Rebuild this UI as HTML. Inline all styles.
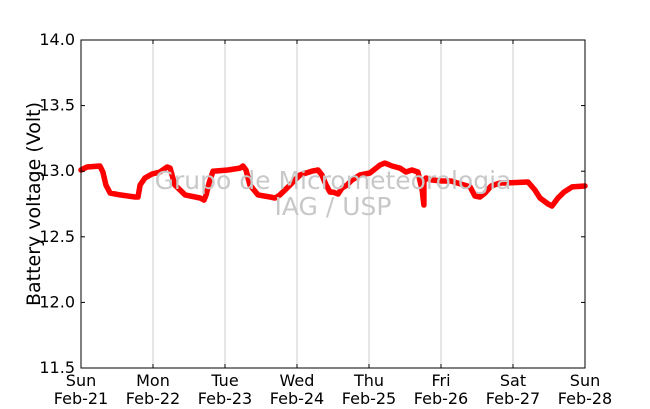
<!DOCTYPE html>
<html><head><meta charset="utf-8"><style>
body{margin:0;background:#fff;}
svg{display:block;font-family:"DejaVu Sans","Liberation Sans",sans-serif;}
</style></head><body>
<svg id="chart" width="650" height="409">
<rect x="0" y="0" width="650" height="409" fill="#fff"/>
<g id="grid"></g>
<g id="series"></g>
<text x="333" y="189" text-anchor="middle" font-size="25" fill="#c8c8c8">Grupo de Micrometeorologia</text>
<text x="333" y="215" text-anchor="middle" font-size="25" fill="#c8c8c8">IAG / USP</text>
<rect x="81" y="40" width="504" height="328" fill="none" stroke="#000" stroke-width="1"/>
<g id="axes"></g>
<text transform="translate(40,204) rotate(-90)" text-anchor="middle" font-size="19" fill="#000">Battery voltage (Volt)</text>
</svg>
<script>
const xDays1 = ["Sun","Mon","Tue","Wed","Thu","Fri","Sat","Sun"];
const xDays2 = ["Feb-21","Feb-22","Feb-23","Feb-24","Feb-25","Feb-26","Feb-27","Feb-28"];
const yTicks = [11.5,12.0,12.5,13.0,13.5,14.0];
const hours = [0,2,6.3,7.3,8.3,9.7,13,18,19,19.7,21.3,23.7,26.3,28.7,29.7,31.3,34.7,39.7,41,41.7,42.7,44,49,53,54,55,56.3,59,63,64.7,66.3,68,69.7,71.3,73,77.3,79,80.3,81.7,83,84,85.7,87,88.7,90.3,93,96.3,99.7,101.3,103.7,106.3,108.3,110.3,112.3,113.7,114.3,114.3,114.3,115,117,120.3,123.3,129.7,131.3,133,134.7,136.7,139.7,141.3,149,151.3,153,155.7,157,159,161,163.7,168];
const volts = [13.009,13.032,13.04,12.994,12.895,12.834,12.819,12.803,12.803,12.895,12.948,12.979,12.994,13.032,13.024,12.895,12.819,12.796,12.78,12.819,12.91,13.0,13.009,13.024,13.04,13.009,12.895,12.819,12.803,12.796,12.819,12.857,12.895,12.933,12.971,13.002,13.009,12.971,12.895,12.841,12.841,12.826,12.872,12.895,12.933,12.971,12.986,13.047,13.062,13.04,13.024,12.994,13.009,12.994,12.86,12.742,12.86,12.92,12.948,12.933,12.925,12.925,12.88,12.811,12.803,12.834,12.887,12.91,12.91,12.918,12.857,12.796,12.75,12.735,12.796,12.841,12.88,12.887];
const X0=81,X1=585,Y0=368,Y1=40;
const xs=h=>X0+(h/168)*(X1-X0);
const ys=v=>Y0-(v-11.5)/(14-11.5)*(Y0-Y1);
const NS="http://www.w3.org/2000/svg";
const grid=document.getElementById('grid'),axes=document.getElementById('axes'),series=document.getElementById('series');
function mk(tag,attrs,parent){const e=document.createElementNS(NS,tag);for(const k in attrs)e.setAttribute(k,attrs[k]);parent.appendChild(e);return e;}
for(let d=0;d<xDays1.length;d++){
  const x=xs(d*24);
  if(d>0&&d<7){const g=mk('line',{x1:x,x2:x,y1:Y1,y2:Y0,stroke:'#cccccc','stroke-width':1},grid);
  
  }
  const t1=mk('line',{x1:x,x2:x,y1:Y0,y2:Y0-4,stroke:'#000'},axes);
  
  
  const t2=mk('line',{x1:x,x2:x,y1:Y1,y2:Y1+4,stroke:'#000'},axes);
  
  
  const l=mk('text',{x:x,y:386,'text-anchor':'middle','font-size':16},axes);l.textContent=xDays1[d];
  
  
  const l2=mk('text',{x:x,y:404,'text-anchor':'middle','font-size':16},axes);l2.textContent=xDays2[d];
  
  
}
yTicks.forEach(v=>{
  const y=ys(v);
  const t=mk('line',{x1:X0,x2:X0+4,y1:y,y2:y,stroke:'#000'},axes);
  
  
  const t2=mk('line',{x1:X1,x2:X1-4,y1:y,y2:y,stroke:'#000'},axes);
  
  
  const l=mk('text',{x:75,y:y+5,'text-anchor':'end','font-size':16},axes);l.textContent=v.toFixed(1);
  
  
});
const pts=hours.map((h,i)=>xs(h).toFixed(1)+','+ys(volts[i]).toFixed(1)).join(' ');
const pl=mk('polyline',{points:pts,fill:'none',stroke:'#ff0000','stroke-width':5.5,'stroke-linejoin':'round','stroke-linecap':'round'},series);


</script>
</body></html>
